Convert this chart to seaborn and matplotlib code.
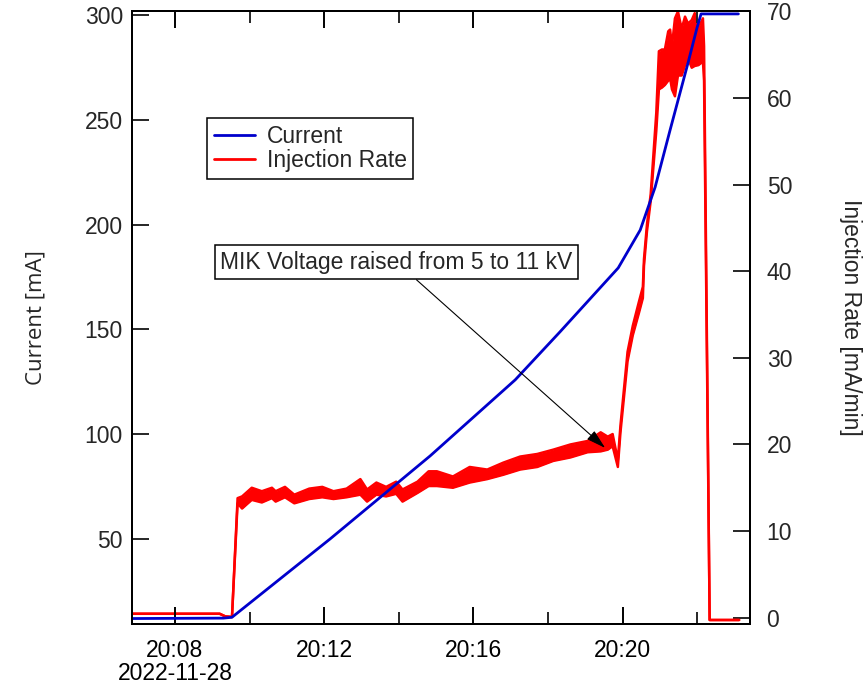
import numpy as np
import pandas as pd
import matplotlib
matplotlib.use("Agg")
import matplotlib.pyplot as plt
import seaborn as sns

# ---------------- data (minutes after 2022-11-28 20:00) ----------------
base_time = pd.Timestamp("2022-11-28 20:00:00")

current_min = [6.85, 9.30, 9.53, 12.16, 14.84, 17.12, 18.32, 19.88, 20.47,
               20.87, 21.27, 21.75, 21.99, 22.10, 23.10]
current_mA = [12.0, 12.2, 12.6, 50.0, 89.6, 125.9, 148.8, 179.3, 197.4,
              217.9, 245.1, 277.1, 293.8, 300.5, 300.5]

rate_min = [6.85, 9.20, 9.35, 9.53, 9.68, 9.80, 10.06, 10.33, 10.60, 10.70,
            10.95, 11.20, 11.60, 11.95, 12.25, 12.60, 12.97, 13.15, 13.40,
            13.66, 13.93, 14.10, 14.50, 14.80, 15.02, 15.45, 15.90, 16.37,
            16.80, 17.25, 17.71, 18.14, 18.60, 19.06, 19.41, 19.60, 19.73,
            19.87, 19.94, 20.13, 20.27, 20.43, 20.54, 20.57, 20.65, 20.75,
            20.90, 20.97, 21.05, 21.13, 21.22, 21.27, 21.32, 21.40, 21.48,
            21.58, 21.67, 21.75, 21.85, 21.93, 22.03, 22.15, 22.18, 22.33,
            23.12]
rate_low = [0.45, 0.45, 0.15, 0.08, 13.2, 12.6, 13.6, 13.3, 13.8, 13.4,
            13.9, 13.2, 13.7, 13.9, 13.7, 13.9, 14.2, 13.4, 14.2,
            14.0, 14.3, 13.4, 14.4, 15.2, 15.2, 15.0, 15.6, 16.0,
            16.5, 17.1, 17.4, 18.1, 18.5, 19.1, 19.2, 19.4, 19.8,
            17.4, 21.4, 29.6, 32.6, 35.1, 36.9, 40.6, 44.6, 48.1,
            56.2, 61.0, 61.2, 61.5, 62.0, 62.3, 61.0, 60.2, 62.6,
            62.6, 63.8, 64.6, 63.5, 63.7, 63.8, 64.2, 62.0, -0.27, -0.27]
rate_high = [0.45, 0.45, 0.15, 0.08, 13.8, 14.0, 15.0, 14.6, 15.0, 14.6,
             15.1, 14.2, 14.9, 15.1, 14.6, 14.9, 16.0, 14.8, 15.6,
             15.1, 15.7, 14.8, 15.7, 16.9, 16.9, 16.3, 17.4, 17.1,
             17.9, 18.6, 18.9, 19.4, 20.0, 20.4, 21.4, 20.9, 21.2,
             18.2, 22.2, 30.7, 33.7, 36.4, 38.2, 41.4, 45.4, 48.9,
             58.3, 65.4, 65.6, 65.6, 67.7, 67.9, 66.0, 69.2, 70.0,
             68.0, 69.4, 68.6, 69.0, 69.8, 68.1, 69.2, 66.0, -0.27, -0.27]

xtick_min = [8, 12, 16, 20]
xtick_labels = ["20:08\n2022-11-28", "20:12", "20:16", "20:20"]
xminor_min = [10, 14, 18, 22]
left_ticks = [50, 100, 150, 200, 250, 300]
right_ticks = [0, 10, 20, 30, 40, 50, 60, 70]

annot_text = "MIK Voltage raised from 5 to 11 kV"
annot_min, annot_mA = 19.53, 93.4


def to_time(mins):
    return base_time + pd.to_timedelta(np.asarray(mins, dtype=float), unit="min")


cur_df = pd.DataFrame({"time": to_time(current_min), "current": current_mA})
rate_df = pd.DataFrame({"time": to_time(rate_min), "low": rate_low, "high": rate_high})

# ---------------- style ----------------
sns.set_style("white")
plt.rcParams["font.family"] = ["Liberation Sans", "DejaVu Sans"]
FS = 16.5

BLUE = "#0000CC"
RED = "#FF0000"

fig = plt.figure(figsize=(8.66, 6.86), dpi=100)
ax1 = fig.add_axes([0.1524, 0.0904, 0.7136, 0.8936])
ax2 = ax1.twinx()
ax1.set_zorder(ax2.get_zorder() + 1)
ax1.patch.set_visible(False)

# Injection rate (right axis)
ax2.fill_between(rate_df["time"], rate_df["low"], rate_df["high"], color=RED, lw=0)
sns.lineplot(data=rate_df, x="time", y="low", ax=ax2, color=RED, lw=1.8,
             sort=False, estimator=None, label="Injection Rate", legend=False)
sns.lineplot(data=rate_df, x="time", y="high", ax=ax2, color=RED, lw=1.8,
             sort=False, estimator=None, legend=False)

# Current (left axis)
sns.lineplot(data=cur_df, x="time", y="current", ax=ax1, color=BLUE, lw=2.0,
             sort=False, estimator=None, label="Current", legend=False)

ax1.set_xlim(to_time([6.85])[0], to_time([23.41])[0])
ax1.set_ylim(9.4, 301.9)
ax2.set_ylim(-0.73, 70.05)

ax1.set_xticks(to_time(xtick_min))
ax1.set_xticklabels(xtick_labels)
ax1.set_xticks(to_time(xminor_min), minor=True)
ax1.set_yticks(left_ticks)
ax1.set_yticklabels([str(v) for v in left_ticks])
ax2.set_yticks(right_ticks)
ax2.set_yticklabels([str(v) for v in right_ticks])

ax1.tick_params(axis="x", which="major", direction="in", length=12, width=1.4,
                top=True, bottom=True, labelsize=FS, pad=10.5, colors="black")
ax1.tick_params(axis="x", which="minor", direction="in", length=8.5, width=1.4,
                top=True, bottom=True)
ax1.tick_params(axis="y", which="major", direction="in", length=12.5, width=1.4,
                left=True, right=False, labelsize=FS, pad=6.5)
ax2.tick_params(axis="y", which="major", direction="in", length=12.5, width=1.4,
                left=False, right=True, labelsize=FS, pad=12)
ax2.tick_params(axis="x", which="both", bottom=False, top=False, labelbottom=False)

for lab in ax1.get_xticklabels():
    lab.set_linespacing(1.0)

for ax in (ax1, ax2):
    for sp in ax.spines.values():
        sp.set_color("black")
        sp.set_linewidth(1.4)

ax1.set_xlabel("")
ax1.set_ylabel("Current [mA]", fontsize=16, family=["Open Sans", "DejaVu Sans"],
               ha="center", va="center")
ax1.yaxis.set_label_coords(-0.155, 0.5)
ax2.set_ylabel("Injection Rate [mA/min]", fontsize=16.5, rotation=270,
               ha="center", va="center")
ax2.yaxis.set_label_coords(1.163, 0.5)

# legend
h1 = ax1.get_lines()[0]
h2 = ax2.get_lines()[0]
leg = ax1.legend([h1, h2], ["Current", "Injection Rate"], loc="upper left",
                 bbox_to_anchor=(0.1214, 0.8254), borderaxespad=0, fontsize=16.5,
                 frameon=True, fancybox=False, shadow=False, framealpha=1,
                 edgecolor="black", borderpad=0.3, labelspacing=0.05,
                 handlelength=1.8, handletextpad=0.5)
leg.get_frame().set_linewidth(1.1)
for ln in leg.get_lines():
    ln.set_linewidth(2.0)

# annotation
ax1.annotate(annot_text, xy=(to_time([annot_min])[0], annot_mA),
             xytext=(0.4281, 0.5905), textcoords="axes fraction",
             ha="center", va="center", fontsize=16.5,
             bbox=dict(boxstyle="square,pad=0.25", fc="white", ec="black", lw=1.1),
             arrowprops=dict(arrowstyle="-|>,head_length=0.6,head_width=0.17",
                             color="black", lw=0.8, mutation_scale=20,
                             shrinkA=0, shrinkB=0))

fig.savefig("out.png", dpi=100)
